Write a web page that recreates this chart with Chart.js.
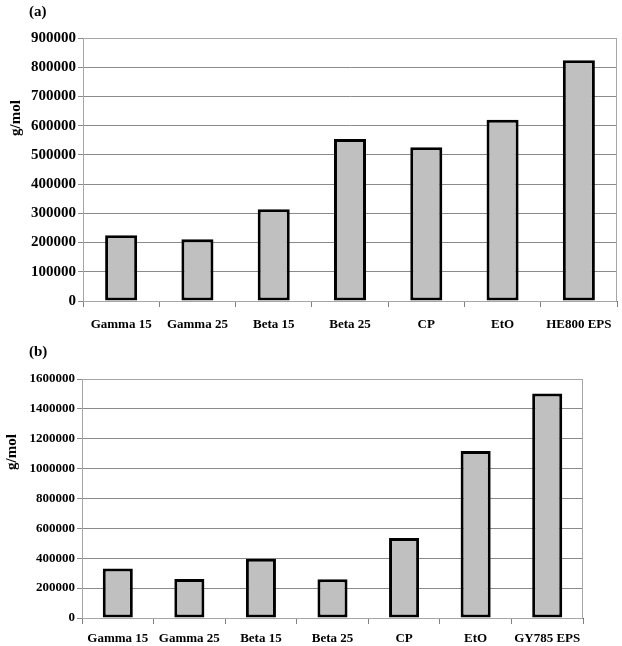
<!DOCTYPE html>
<html>
<head>
<meta charset="utf-8">
<script src="https://cdn.jsdelivr.net/npm/chart.js@4/dist/chart.umd.min.js"></script>
<style>
  html, body { margin: 0; padding: 0; background: #fff; }
  body { width: 622px; height: 646px; position: relative; overflow: hidden; }
  .panel { position: absolute; left: 0; width: 622px; }
  .tag, .ytitle {
    position: absolute;
    font-family: "Liberation Serif", "Times New Roman", serif;
    font-weight: bold;
    color: #000;
    white-space: nowrap;
  }
  .tag { font-size: 15px; }
  .ytitle { font-size: 15px; transform: translate(-50%, -50%) rotate(-90deg); }
</style>
</head>
<body>
<div class="panel" style="top:0;height:345px"><canvas id="chartA"></canvas></div>
<div class="panel" style="top:345px;height:301px"><canvas id="chartB"></canvas></div>
<div class="tag" style="left:29px;top:3px">(a)</div>
<div class="tag" style="left:29px;top:343px">(b)</div>
<div class="ytitle" style="left:15px;top:118px">g/mol</div>
<div class="ytitle" style="left:11px;top:452px">g/mol</div>
<script>
const categoriesA = ["Gamma 15", "Gamma 25", "Beta 15", "Beta 25", "CP", "EtO", "HE800 EPS"];
const valuesA = [225000, 211000, 314000, 554000, 526000, 620000, 824000];
const ticksA = { max: 900000, step: 100000 };

const categoriesB = ["Gamma 15", "Gamma 25", "Beta 15", "Beta 25", "CP", "EtO", "GY785 EPS"];
const valuesB = [332000, 261000, 397000, 260000, 536000, 1118000, 1503000];
const ticksB = { max: 1600000, step: 200000 };

const serif = "'Liberation Serif', 'Times New Roman', serif";

// grey frame round the plot area (top and right edges)
const frame = {
  id: "frame",
  beforeDatasetsDraw(chart) {
    const a = chart.chartArea, ctx = chart.ctx;
    ctx.save();
    ctx.strokeStyle = "#a6a6a6";
    ctx.lineWidth = 1;
    ctx.strokeRect(a.left + 0.5, a.top + 0.5, a.right - a.left - 1, a.bottom - a.top);
    ctx.restore();
  }
};

function makeBarChart(canvasId, labels, values, yTicks, sizing) {
  return new Chart(document.getElementById(canvasId), {
    type: "bar",
    data: {
      labels,
      datasets: [{
        data: values,
        backgroundColor: "#c0c0c0",
        borderColor: "#000",
        borderWidth: 3,
        borderSkipped: false,
        barPercentage: 0.42,
        categoryPercentage: 1
      }]
    },
    options: {
      responsive: true,
      maintainAspectRatio: false,
      animation: false,
      layout: { padding: { top: sizing.top, right: sizing.right, left: 0, bottom: 0 } },
      plugins: { legend: { display: false }, tooltip: { enabled: false } },
      scales: {
        x: {
          grid: { offset: true, drawOnChartArea: false, tickLength: 6, color: "#808080" },
          border: { color: "#606060", width: 1 },
          ticks: { color: "#000", padding: sizing.xPad, maxRotation: 0, autoSkip: false,
                   font: { family: serif, weight: "bold", size: 13 } },
          afterFit(scale) { scale.height = sizing.xHeight; }
        },
        y: {
          min: 0,
          max: yTicks.max,
          grid: { color: "#8a8a8a", tickLength: 5 },
          border: { color: "#808080", width: 1 },
          ticks: { stepSize: yTicks.step, color: "#000", padding: 2,
                   font: { family: serif, weight: "bold", size: sizing.yFont },
                   callback: (v) => String(v) },
          afterFit(scale) { scale.width = sizing.yWidth; }
        }
      }
    },
    plugins: [frame]
  });
}

makeBarChart("chartA", categoriesA, valuesA, ticksA,
  { top: 38, right: 5, xHeight: 44, xPad: 10, yWidth: 83, yFont: 15 });
makeBarChart("chartB", categoriesB, valuesB, ticksB,
  { top: 34, right: 39, xHeight: 28, xPad: 7, yWidth: 82, yFont: 13 });
</script>
</body>
</html>
